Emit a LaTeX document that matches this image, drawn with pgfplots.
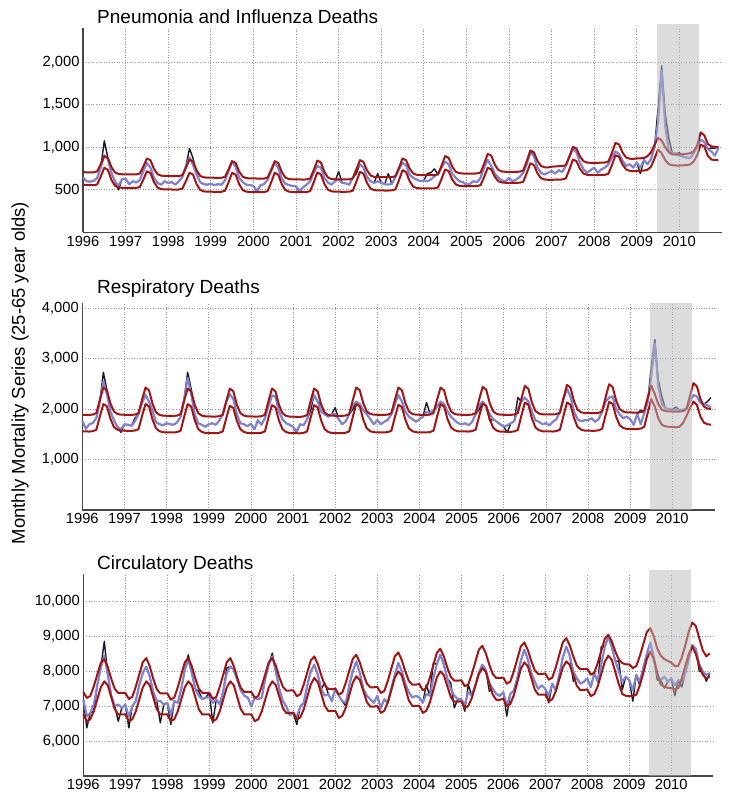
\documentclass[border=0pt]{standalone}
\usepackage{fontspec}
\setmainfont{Liberation Sans}
\usepackage{pgfplots}
\usepackage{pgfplotstable}
\pgfplotsset{compat=1.18}
\definecolor{bandred}{RGB}{160,22,20}
\definecolor{fitblue}{RGB}{128,130,212}
\definecolor{obsblack}{RGB}{25,25,35}
\definecolor{gridgray}{RGB}{150,150,150}
\definecolor{axgray}{RGB}{70,70,70}
\definecolor{shadegray}{RGB}{185,185,185}

% Pneumonia and Influenza: month index, upper band, lower band, fitted, observed
\pgfplotstableread{
m up lo fit obs
0 707 560 645 645
1 705 556 600 600
2 704 553 595 595
3 705 553 605 605
4 716 563 640 640
5 801 656 760 760
6 895 758 905 1075
7 874 735 860 875
8 767 617 700 700
9 703 547 600 600
10 686 528 545 500
11 682 523 625 625
12 682 523 630 630
13 681 522 565 565
14 680 521 600 600
15 681 522 585 585
16 691 532 615 615
17 775 620 720 720
18 868 718 815 815
19 847 697 760 760
20 744 590 640 640
21 683 525 580 580
22 666 508 560 560
23 662 504 600 600
24 662 504 580 580
25 661 503 590 590
26 660 502 560 560
27 661 503 600 600
28 672 514 650 650
29 758 602 780 780
30 855 700 880 985
31 834 678 790 870
32 727 566 680 680
33 663 499 590 590
34 646 481 565 565
35 642 477 560 560
36 642 477 570 570
37 641 476 555 555
38 640 475 565 565
39 641 476 560 560
40 652 488 610 610
41 739 588 720 720
42 836 700 830 830
43 816 677 770 770
44 714 564 640 640
45 653 496 590 590
46 637 478 560 560
47 633 473 555 555
48 633 473 545 545
49 632 472 490 470
50 631 472 555 555
51 632 473 565 565
52 643 484 620 620
53 734 586 720 720
54 836 700 815 815
55 815 677 760 760
56 708 564 630 630
57 643 496 570 570
58 626 478 555 555
59 622 473 545 545
60 622 473 540 540
61 621 472 490 470
62 620 472 530 530
63 621 473 560 560
64 633 485 600 600
65 732 588 700 700
66 843 703 780 780
67 821 680 760 760
68 710 567 640 640
69 644 500 585 585
70 626 482 560 560
71 622 477 600 600
72 622 477 620 715
73 621 476 580 580
74 621 476 575 575
75 623 478 560 560
76 633 489 640 640
77 735 594 740 690
78 848 711 800 800
79 828 689 760 760
80 728 580 650 650
81 668 514 600 600
82 652 496 580 580
83 648 492 600 690
84 648 492 580 580
85 647 491 565 565
86 647 491 560 690
87 649 493 570 570
88 659 504 650 650
89 757 611 740 740
90 867 730 815 815
91 848 709 790 790
92 750 602 680 680
93 692 537 640 640
94 676 520 620 620
95 672 516 600 600
96 672 516 610 610
97 671 515 600 690
98 671 515 620 700
99 673 517 660 745
100 683 527 680 680
101 783 627 760 760
102 895 738 830 830
103 875 719 800 800
104 773 621 690 690
105 711 563 640 640
106 695 547 600 600
107 691 543 590 590
108 691 543 560 560
109 690 542 570 570
110 690 542 600 600
111 692 544 590 590
112 703 554 640 640
113 806 650 760 790
114 922 758 850 850
115 901 740 780 780
116 795 652 690 690
117 732 600 640 640
118 715 586 610 610
119 711 582 600 600
120 711 582 640 640
121 710 581 600 600
122 710 581 620 620
123 713 583 650 650
124 724 593 700 700
125 836 696 800 800
126 961 810 930 960
127 941 791 900 900
128 840 694 760 760
129 780 636 700 700
130 764 621 680 680
131 762 617 700 700
132 770 617 720 720
133 774 618 690 690
134 777 619 730 730
135 779 621 710 710
136 790 633 780 780
137 891 737 880 880
138 1004 855 980 1000
139 985 837 940 940
140 891 745 820 820
141 835 690 740 740
142 820 676 700 700
143 816 672 730 730
144 816 672 760 760
145 817 673 700 700
146 818 674 740 740
147 820 676 760 760
148 832 688 800 800
149 935 790 880 880
150 1051 906 950 950
151 1032 887 920 920
152 936 794 840 840
153 879 738 780 780
154 865 723 800 800
155 862 719 760 760
156 868 719 820 820
157 870 722 760 690
158 872 725 850 850
159 895 735 800 800
160 940 770 860 860
161 1030 870 1000 1000
162 1109 973 1300 1460
163 1080 930 1900 1957
164 1000 850 1250 1400
165 940 800 960 1110
166 915 788 930 930
167 914 785 925 925
168 915 785 900 935
169 918 787 890 890
170 922 790 880 880
171 930 797 870 870
172 950 830 930 930
173 1020 905 1000 1000
174 1175 1030 1090 1090
175 1140 1010 1060 1060
176 1040 900 980 980
177 1010 855 950 990
178 1005 850 900 990
179 1002 848 990 1000
}\dataA

% Respiratory
\pgfplotstableread{
m up lo fit obs
0 1888 1559 1770 1770
1 1886 1557 1610 1610
2 1885 1556 1700 1700
3 1892 1563 1725 1725
4 1920 1590 1820 1820
5 2185 1856 2150 2150
6 2428 2099 2550 2730
7 2374 2057 2300 2380
8 2115 1809 1950 1950
9 1953 1646 1780 1780
10 1904 1593 1650 1650
11 1890 1574 1600 1540
12 1888 1572 1700 1700
13 1886 1570 1690 1690
14 1885 1569 1670 1670
15 1892 1576 1760 1820
16 1920 1602 1900 1900
17 2185 1862 2120 2120
18 2428 2099 2280 2280
19 2372 2054 2150 2150
20 2103 1792 1960 1960
21 1935 1618 1740 1740
22 1885 1562 1700 1700
23 1870 1542 1680 1680
24 1868 1540 1720 1720
25 1866 1538 1700 1700
26 1865 1537 1690 1690
27 1872 1545 1740 1740
28 1900 1573 1850 1850
29 2165 1848 2200 2200
30 2408 2099 2620 2730
31 2353 2053 2300 2400
32 2087 1784 1900 1900
33 1921 1606 1720 1720
34 1872 1549 1690 1690
35 1857 1528 1650 1650
36 1855 1526 1700 1700
37 1853 1524 1720 1720
38 1852 1523 1690 1690
39 1860 1531 1770 1770
40 1888 1558 1900 1900
41 2159 1825 2150 2150
42 2408 2066 2300 2300
43 2353 2023 2200 2200
44 2087 1769 1900 1900
45 1921 1602 1720 1720
46 1872 1548 1700 1700
47 1857 1528 1660 1660
48 1855 1526 1710 1710
49 1853 1524 1600 1600
50 1852 1523 1780 1780
51 1860 1531 1690 1690
52 1888 1559 1820 1820
53 2159 1831 2050 2050
54 2408 2079 2270 2270
55 2352 2035 2250 2250
56 2084 1774 1950 1950
57 1917 1602 1800 1800
58 1867 1546 1720 1720
59 1852 1526 1690 1690
60 1850 1524 1650 1650
61 1848 1522 1560 1525
62 1847 1521 1700 1700
63 1855 1529 1680 1680
64 1883 1557 1800 1800
65 2157 1829 2100 1970
66 2408 2079 2280 2280
67 2354 2035 2150 2150
68 2095 1775 1950 2080
69 1933 1603 1900 1900
70 1884 1548 1850 1850
71 1870 1528 1900 1900
72 1868 1526 1900 2030
73 1866 1524 1800 1800
74 1866 1523 1700 1700
75 1874 1532 1760 1760
76 1902 1561 1900 1900
77 2176 1840 2080 1990
78 2428 2099 2150 2150
79 2374 2054 2100 2100
80 2115 1792 1980 1980
81 1953 1618 1900 1900
82 1904 1562 1800 1800
83 1890 1542 1700 1700
84 1888 1540 1780 1780
85 1886 1538 1700 1700
86 1885 1537 1750 1750
87 1892 1545 1790 1790
88 1920 1572 1900 1900
89 2185 1842 2100 2100
90 2428 2086 2280 2280
91 2374 2042 2150 2150
92 2115 1786 1950 1950
93 1953 1616 1850 1850
94 1904 1562 1800 1800
95 1890 1542 1750 1750
96 1888 1540 1800 1800
97 1886 1538 1850 1850
98 1885 1537 1950 2130
99 1892 1546 1920 1920
100 1920 1573 1980 1980
101 2185 1848 2050 2050
102 2428 2099 2150 2150
103 2374 2056 2100 2100
104 2115 1802 1950 1950
105 1953 1635 1850 1850
106 1904 1581 1780 1780
107 1890 1561 1720 1720
108 1888 1559 1700 1700
109 1886 1557 1720 1720
110 1885 1556 1680 1680
111 1893 1565 1750 1750
112 1921 1592 1900 1900
113 2192 1863 2080 1990
114 2441 2112 2150 2150
115 2386 2067 2050 2050
116 2120 1804 1900 1770
117 1954 1630 1800 1800
118 1905 1574 1750 1750
119 1890 1554 1700 1700
120 1888 1552 1650 1650
121 1886 1550 1680 1540
122 1886 1549 1720 1720
123 1894 1558 1760 1760
124 1922 1587 2000 2230
125 2203 1863 2150 2150
126 2461 2132 2230 2230
127 2404 2086 2150 2150
128 2133 1817 1950 1950
129 1963 1639 1780 1780
130 1912 1582 1750 1750
131 1897 1561 1700 1700
132 1895 1559 1720 1720
133 1894 1557 1680 1680
134 1894 1556 1750 1750
135 1901 1565 1800 1800
136 1930 1594 1950 1950
137 2217 1867 2200 2200
138 2480 2132 2400 2400
139 2424 2087 2250 2250
140 2156 1824 1950 1950
141 1988 1650 1800 1800
142 1938 1594 1760 1760
143 1923 1574 1780 1780
144 1921 1572 1780 1780
145 1920 1571 1820 1820
146 1920 1571 1750 1750
147 1927 1580 1800 1800
148 1955 1610 1950 1950
149 2236 1880 2150 2150
150 2494 2145 2230 2230
151 2438 2102 2250 2250
152 2169 1848 2000 2000
153 2001 1681 1900 1900
154 1951 1627 1820 1820
155 1936 1607 1850 1850
156 1934 1605 1800 1800
157 1932 1604 1690 1690
158 1932 1605 1900 1900
159 1940 1615 1700 1980
160 1975 1650 1920 1920
161 2230 1930 2150 2150
162 2470 2200 2650 2840
163 2300 2050 3300 3380
164 2100 1820 2450 2580
165 1990 1690 2100 2250
166 1960 1660 2020 2020
167 1955 1650 2000 2000
168 1952 1645 1990 1990
169 1950 1640 1990 2040
170 1952 1650 1985 1985
171 1960 1720 1990 1990
172 2000 1860 2000 2000
173 2260 2020 2150 2150
174 2515 2150 2280 2280
175 2450 2080 2250 2250
176 2200 1850 2120 2120
177 2050 1730 2100 2100
178 2010 1700 2080 2150
179 2005 1690 2030 2230
}\dataB

% Circulatory
\pgfplotstableread{
m up lo fit obs
0 7405 6765 7190 7190
1 7238 6571 6720 6381
2 7294 6628 6810 6810
3 7572 6857 7050 6850
4 7906 7200 7600 7600
5 8241 7543 8100 8100
6 8352 7714 8450 8860
7 8124 7600 7900 7900
8 7781 7257 7300 7300
9 7496 6914 7000 7000
10 7381 6765 7050 6570
11 7381 6765 6950 6950
12 7386 6765 7050 7050
13 7210 6571 6700 6381
14 7269 6628 7000 7000
15 7561 6857 7150 7150
16 7912 7200 7600 7600
17 8263 7543 7950 7950
18 8380 7714 8140 8140
19 8142 7600 7850 7850
20 7785 7257 7400 7400
21 7488 6914 7150 7150
22 7369 6765 7150 6524
23 7369 6765 7050 7050
24 7369 6765 7100 7100
25 7190 6571 6750 6476
26 7250 6628 7150 7150
27 7547 6857 7100 7100
28 7904 7200 7500 7500
29 8261 7543 8050 8050
30 8380 7714 8330 8476
31 8146 7600 7950 7950
32 7795 7257 7500 7500
33 7503 6914 7300 7428
34 7386 6765 7200 7200
35 7386 6765 7250 7250
36 7386 6765 7250 7380
37 7210 6571 7100 6524
38 7269 6628 7200 7200
39 7561 6857 7050 7050
40 7912 7200 7450 7450
41 8263 7543 7950 8095
42 8380 7714 8140 8140
43 8152 7600 8050 8050
44 7809 7257 7750 7750
45 7524 6914 7450 7450
46 7409 6765 7300 7300
47 7409 6765 7250 7250
48 7409 6765 7000 7000
49 7238 6571 7250 7250
50 7295 6628 7200 7200
51 7581 6857 7250 7250
52 7923 7200 7800 7800
53 8266 7543 8200 8200
54 8380 7714 8430 8523
55 8161 7605 8000 8000
56 7833 7276 7500 7500
57 7560 6948 7150 7150
58 7450 6805 7000 7000
59 7450 6805 6750 6750
60 7457 6821 6800 6800
61 7286 6619 6700 6476
62 7343 6679 7000 7000
63 7629 6917 7100 7100
64 7971 7274 7600 7600
65 8314 7631 8000 8000
66 8428 7809 8190 8190
67 8209 7695 7900 7900
68 7881 7352 7500 7500
69 7607 7010 7300 7666
70 7497 6861 7350 7350
71 7497 6861 7150 7150
72 7504 6869 7500 7500
73 7333 6667 7300 7300
74 7390 6727 7150 7150
75 7676 6965 7100 7000
76 8018 7322 7600 7600
77 8361 7679 8000 8000
78 8475 7857 8285 8285
79 8256 7752 7950 7950
80 7928 7438 7500 7500
81 7654 7124 7300 7300
82 7544 6988 7200 7200
83 7544 6988 7100 7100
84 7554 7012 7300 7300
85 7380 6810 6950 6950
86 7438 6870 7200 7200
87 7729 7108 7100 7100
88 8077 7465 7500 7500
89 8426 7822 7900 7900
90 8542 8000 8240 8240
91 8325 7881 8000 8000
92 8000 7524 7650 7650
93 7728 7167 7400 7400
94 7620 7012 7250 7250
95 7620 7012 7300 7300
96 7636 7012 7250 7250
97 7457 6810 7100 7100
98 7517 6870 7350 7620
99 7814 7108 7300 7300
100 8171 7465 7800 8240
101 8528 7822 8200 8200
102 8647 8000 8480 8480
103 8432 7895 8200 8200
104 8109 7580 7800 7800
105 7840 7265 7500 7666
106 7732 7129 7300 6952
107 7732 7129 7200 7200
108 7745 7145 7200 7200
109 7571 6950 7050 6857
110 7629 7007 7400 7619
111 7920 7236 7300 7300
112 8268 7580 7600 7600
113 8617 7923 7950 7950
114 8733 8095 8190 8190
115 8516 7986 8050 8050
116 8190 7657 7650 7428
117 7919 7329 7500 7500
118 7810 7186 7350 7350
119 7810 7186 7300 7300
120 7824 7214 7400 7400
121 7647 7000 7000 6714
122 7706 7063 7350 7350
123 8001 7314 7450 7450
124 8356 7691 7800 7800
125 8710 8068 8300 8300
126 8828 8257 8620 8620
127 8615 8146 8350 8350
128 8295 7811 7950 7950
129 8029 7477 7700 7700
130 7922 7332 7500 7500
131 7922 7332 7600 7600
132 7941 7337 7500 7500
133 7762 7143 7300 7095
134 7822 7200 7650 7650
135 8119 7429 7450 7450
136 8476 7771 7900 7900
137 8833 8114 8400 8400
138 8952 8285 8710 8710
139 8742 8186 8450 8450
140 8428 7887 8000 7714
141 8166 7589 7800 7800
142 8061 7459 7650 7650
143 8061 7459 7700 7700
144 8076 7487 7800 7800
145 7904 7290 7550 7550
146 7961 7348 7950 7950
147 8248 7580 7700 7700
148 8592 7928 8200 8714
149 8935 8276 8700 8700
150 9050 8450 9000 9000
151 8859 8334 8700 8700
152 8573 7984 8300 8300
153 8334 7635 8000 8285
154 8238 7350 7700 7476
155 8200 7300 7850 7850
156 8200 7290 7750 7750
157 8095 7290 7450 7143
158 8152 7330 7900 7900
159 8439 7600 7700 7600
160 8782 7950 8100 8100
161 9126 8350 8500 8500
162 9240 8571 8830 8830
163 9000 8350 8400 8400
164 8650 7950 7900 7750
165 8450 7620 7750 7750
166 8350 7560 7850 7520
167 8300 7530 7700 7700
168 8250 7520 7800 7800
169 8150 7480 7600 7300
170 8160 7520 7750 7750
171 8400 7800 7700 7550
172 8750 8150 7950 7950
173 9150 8500 8350 8350
174 9400 8714 8760 8760
175 9300 8500 8650 8650
176 8950 8150 8200 8000
177 8600 7900 8000 8000
178 8430 7800 7900 7714
179 8520 7850 7950 7950
}\dataC

\pgfplotsset{
  panel/.style={
    scale only axis, anchor=south west,
    xmin=1996, xmax=2011,
    axis x line*=bottom, axis y line*=left,
    axis line style={draw=axgray, line width=1.4pt},
    xtick={1996,1997,...,2010},
    grid=major,
    major grid style={draw=gridgray, line width=0.6pt, dotted},
    major tick length=0pt,
    tick label style={font=\fontsize{14.7}{16}\selectfont, text=black},
    x tick label style={/pgf/number format/1000 sep={}},
    y tick label style={/pgf/number format/1000 sep={,}},
    scaled y ticks=false,
    /pgf/number format/assume math mode=true,
    every axis plot/.append style={no markers, line join=round},
    clip=false,
  },
  obsl/.style={draw=obsblack, line width=1.4pt},
  fitl/.style={draw=fitblue, line width=2.1pt},
  bandl/.style={draw=bandred, line width=2pt},
}

\begin{document}
\begin{tikzpicture}
\useasboundingbox (0,0) rectangle (734pt,804pt);

% Panel 1
\begin{axis}[panel, at={(83pt,571.7pt)}, width=639pt, height=204.2pt,
  ymin=0, ymax=2400, ytick={500,1000,1500,2000}]
\addplot[obsl] table[x expr=1996+\thisrow{m}/12, y=obs]{\dataA};
\addplot[fitl] table[x expr=1996+\thisrow{m}/12, y=fit]{\dataA};
\addplot[bandl] table[x expr=1996+\thisrow{m}/12, y=up]{\dataA};
\addplot[bandl] table[x expr=1996+\thisrow{m}/12, y=lo]{\dataA};
\fill[fill=shadegray, fill opacity=0.5] (axis cs:2009.47,0) rectangle (axis cs:2010.47,2445);
\end{axis}

% Panel 2
\begin{axis}[panel, at={(82.3pt,294pt)}, width=632.2pt, height=206.8pt,
  ymin=0, ymax=4100, ytick={1000,2000,3000,4000}]
\addplot[obsl] table[x expr=1996+\thisrow{m}/12, y=obs]{\dataB};
\addplot[fitl] table[x expr=1996+\thisrow{m}/12, y=fit]{\dataB};
\addplot[bandl] table[x expr=1996+\thisrow{m}/12, y=up]{\dataB};
\addplot[bandl] table[x expr=1996+\thisrow{m}/12, y=lo]{\dataB};
\fill[fill=shadegray, fill opacity=0.5] (axis cs:2009.47,0) rectangle (axis cs:2010.47,4100);
\end{axis}

% Panel 3
\begin{axis}[panel, at={(83.3pt,28pt)}, width=630pt, height=202.3pt,
  ymin=5000, ymax=10800, ytick={6000,7000,8000,9000,10000}]
\addplot[obsl] table[x expr=1996+\thisrow{m}/12, y=obs]{\dataC};
\addplot[fitl] table[x expr=1996+\thisrow{m}/12, y=fit]{\dataC};
\addplot[bandl] table[x expr=1996+\thisrow{m}/12, y=up]{\dataC};
\addplot[bandl] table[x expr=1996+\thisrow{m}/12, y=lo]{\dataC};
\fill[fill=shadegray, fill opacity=0.5] (axis cs:2009.47,5000) rectangle (axis cs:2010.47,10900);
\end{axis}

\node[anchor=base west, inner sep=0pt, font=\fontsize{19}{22}\selectfont] at (97pt,780pt) {Pneumonia and Influenza Deaths};
\node[anchor=base west, inner sep=0pt, font=\fontsize{19}{22}\selectfont] at (97pt,510.5pt) {Respiratory Deaths};
\node[anchor=base west, inner sep=0pt, font=\fontsize{19}{22}\selectfont] at (97pt,234.7pt) {Circulatory Deaths};
\node[rotate=90, inner sep=0pt, font=\fontsize{18.5}{20}\selectfont] at (20pt,431pt) {Monthly Mortality Series (25-65 year olds)};
\end{tikzpicture}
\end{document}
